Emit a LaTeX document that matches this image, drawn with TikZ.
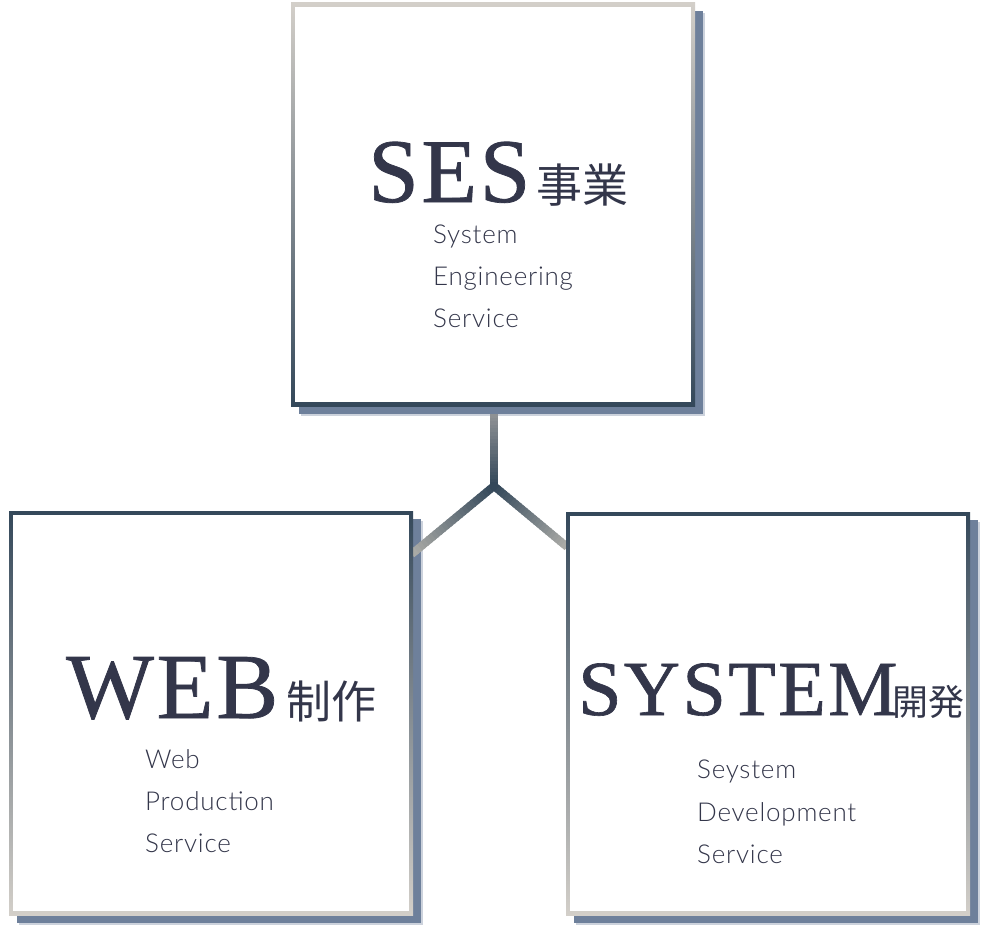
\documentclass[tikz,border=0pt]{standalone}
\usepackage{fontspec}
\setmainfont{Liberation Serif}
\newfontfamily\titlef{Liberation Serif}[LetterSpace=3, FakeBold=0.8]
\newfontfamily\cjk{Noto Sans CJK JP}
\newfontfamily\thinf{Lato Light}[LetterSpace=3]
\usetikzlibrary{calc}
\definecolor{darkc}{HTML}{34485A}
\definecolor{lightc}{HTML}{D3CFC9}
\definecolor{shadowc}{HTML}{6E809B}
\definecolor{textc}{HTML}{33364A}
\definecolor{linelight}{HTML}{A9AAA6}
\definecolor{linetop}{HTML}{8E9194}
\begin{document}
\begin{tikzpicture}[x=1pt,y=-1pt,
 boxnode/.style={minimum width=404pt, minimum height=403pt, inner sep=0pt, outer sep=0pt, draw=none},
 title/.style={anchor=base west, inner sep=0pt, text=textc},
 sub/.style={anchor=base west, inner sep=0pt, text=textc, font=\thinf\fontsize{26}{26}\selectfont},
]
\useasboundingbox[fill=white] (0,0) rectangle (983,931);
\node[boxnode] (ses) at (493,204.5) {};
\node[boxnode, minimum height=404pt] (web) at (211,713) {};
\node[boxnode] (sys) at (768,713.5) {};
\coordinate (j) at (494,486);
\coordinate (le) at (web.east |- 0,553);
\coordinate (re) at (sys.west |- 0,546);
\coordinate (vt) at ([yshift=-8pt]ses.south -| j);

% shadows
\foreach \b in {ses,web,sys} {
 \fill[shadowc, opacity=0.35] ([shift={(10pt,-10pt)}]\b.north west) rectangle ([shift={(10pt,-10pt)}]\b.south east);
 \fill[shadowc] ([shift={(8pt,-8pt)}]\b.north west) rectangle ([shift={(8pt,-8pt)}]\b.south east);
}

% connectors
\foreach \i in {0,...,19} {
 \pgfmathsetmacro\m{100*\i/19}
 \draw[line width=8pt, color=darkc!\m!linetop] ($(vt)!\i/20!(j)$) -- ($(vt)!{(\i+1.4)/20}!(j)$);
}
\foreach \e in {le,re} {
 \foreach \i in {0,...,23} {
  \pgfmathsetmacro\m{100*\i/23}
  \draw[line width=8pt, color=linelight!\m!darkc] ($(j)!\i/24!(\e)$) -- ($(j)!{(\i+1.4)/24}!(\e)$);
 }
}
\fill[darkc] (j) circle (4pt);

% boxes
\shade[top color=lightc, bottom color=darkc] (ses.north west) rectangle (ses.south east);
\fill[white] ([shift={(4pt,-4pt)}]ses.north west) rectangle ([shift={(-4pt,4pt)}]ses.south east);
\shade[top color=darkc, bottom color=lightc] (web.north west) rectangle (web.south east);
\fill[white] ([shift={(4pt,-4pt)}]web.north west) rectangle ([shift={(-4pt,4pt)}]web.south east);
\shade[top color=darkc, bottom color=lightc] (sys.north west) rectangle (sys.south east);
\fill[white] ([shift={(4pt,-4pt)}]sys.north west) rectangle ([shift={(-4pt,4pt)}]sys.south east);

% titles
\node[title] (sest) at (368,202) {\titlef\fontsize{91}{91}\selectfont SES\hspace{6pt}{\cjk\fontsize{46}{46}\selectfont 事業}};
\node[title] (webt) at (66,718) {\titlef\fontsize{93}{93}\selectfont WEB\hspace{8pt}{\cjk\fontsize{45}{45}\selectfont 制作}};
\node[title] (syst) at (578,715) {\titlef\fontsize{78}{78}\selectfont SYSTEM\hspace{-5pt}{\cjk\fontsize{36}{36}\selectfont 開発}};

% subtitles
\node[sub] (ses1) at (433,243) {System};
\node[sub] (ses2) at (433,285) {Engineering};
\node[sub] (ses3) at (433,327) {Service};
\node[sub] (web1) at (145,768) {Web};
\node[sub] (web2) at (145,810) {Production};
\node[sub] (web3) at (145,852) {Service};
\node[sub] (sys1) at (697,778) {Seystem};
\node[sub] (sys2) at (697,821) {Development};
\node[sub] (sys3) at (697,863) {Service};
\end{tikzpicture}
\end{document}
